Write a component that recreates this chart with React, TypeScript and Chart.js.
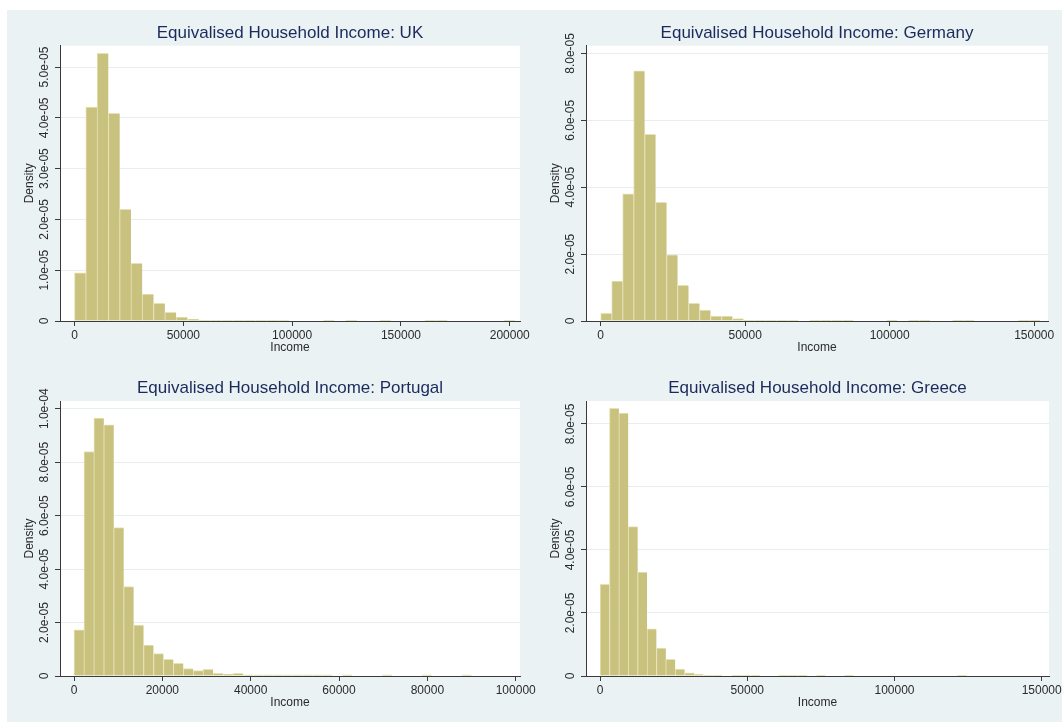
import React, { useEffect, useRef } from "react";
import { Chart, registerables } from "chart.js";

Chart.register(...registerables);

const FONT_FAMILY = '"Liberation Sans", Arial, Helvetica, sans-serif';
const BAR_FILL = "#c9c17e";
const BAR_EDGE = "#e6e2b4";
const GRID_COLOR = "#e6eef0";
const AXIS_COLOR = "#3a3a3a";
const TEXT_COLOR = "#2b2b2b";
const TITLE_COLOR = "#1b2a5c";
const PANEL_BG = "#eaf2f3";

// ---- UK ----
const ukTitle = "Equivalised Household Income: UK";
const ukBinWidth = 5190;
const ukDensity = [
  0.95e-5, 4.21e-5, 5.27e-5, 4.09e-5, 2.2e-5, 1.135e-5, 0.53e-5, 0.35e-5, 0.17e-5, 0.075e-5,
  0.035e-5, 0.02e-5, 0.02e-5, 0.02e-5, 0.02e-5, 0.02e-5, 0.02e-5, 0.02e-5, 0.02e-5, 0,
  0, 0, 0.02e-5, 0, 0.02e-5, 0, 0, 0.02e-5, 0, 0,
  0, 0.02e-5, 0.02e-5, 0, 0, 0, 0, 0, 0.02e-5,
];
const ukXTicks = [0, 50000, 100000, 150000, 200000];
const ukYTicks = [0, 1e-5, 2e-5, 3e-5, 4e-5, 5e-5];

// ---- Germany ----
const deTitle = "Equivalised Household Income: Germany";
const deBinWidth = 3800;
const deDensity = [
  0.23e-5, 1.19e-5, 3.8e-5, 7.48e-5, 5.58e-5, 3.55e-5, 1.98e-5, 1.07e-5, 0.53e-5, 0.33e-5,
  0.15e-5, 0.15e-5, 0.07e-5, 0.03e-5, 0.03e-5, 0.03e-5, 0.03e-5, 0.03e-5, 0, 0.02e-5,
  0.02e-5, 0.02e-5, 0.02e-5, 0, 0, 0, 0.02e-5, 0, 0.02e-5, 0.02e-5,
  0, 0, 0.02e-5, 0.02e-5, 0, 0, 0, 0, 0.02e-5, 0.02e-5,
];
const deXTicks = [0, 50000, 100000, 150000];
const deYTicks = [0, 2e-5, 4e-5, 6e-5, 8e-5];

// ---- Portugal ----
const ptTitle = "Equivalised Household Income: Portugal";
const ptBinWidth = 2250;
const ptDensity = [
  1.73e-5, 8.4e-5, 9.65e-5, 9.4e-5, 5.55e-5, 3.35e-5, 1.91e-5, 1.16e-5, 0.84e-5, 0.62e-5,
  0.47e-5, 0.28e-5, 0.2e-5, 0.25e-5, 0.1e-5, 0.06e-5, 0.1e-5, 0.04e-5, 0.04e-5, 0.04e-5,
  0.04e-5, 0.04e-5, 0.04e-5, 0.04e-5, 0.04e-5, 0.04e-5, 0, 0.04e-5, 0, 0,
  0, 0.04e-5, 0, 0, 0, 0.04e-5, 0, 0, 0, 0.04e-5,
];
const ptXTicks = [0, 20000, 40000, 60000, 80000, 100000];
const ptYTicks = [0, 2e-5, 4e-5, 6e-5, 8e-5, 1e-4];

// ---- Greece ----
const grTitle = "Equivalised Household Income: Greece";
const grBinWidth = 3190;
const grDensity = [
  2.91e-5, 8.5e-5, 8.35e-5, 4.74e-5, 3.3e-5, 1.5e-5, 0.89e-5, 0.53e-5, 0.22e-5, 0.1e-5,
  0.05e-5, 0.03e-5, 0.03e-5, 0, 0.02e-5, 0.02e-5, 0.02e-5, 0, 0, 0.02e-5,
  0.02e-5, 0.02e-5, 0, 0.02e-5, 0, 0, 0.02e-5, 0, 0, 0,
  0, 0, 0, 0, 0, 0, 0, 0, 0.02e-5,
];
const grXTicks = [0, 50000, 100000, 150000];
const grYTicks = [0, 2e-5, 4e-5, 6e-5, 8e-5];

type Box = { left: number; top: number; width: number; height: number };
type Pad = { left: number; right: number; top: number; bottom: number };

type Panel = {
  title: string;
  binWidth: number;
  density: number[];
  xTicks: number[];
  yTicks: number[];
  xMin: number;
  xMax: number;
  yMax: number;
  frame: Box;
  pad: Pad;
  titlePad: { top: number; bottom: number };
};

const panels: Panel[] = [
  {
    title: ukTitle, binWidth: ukBinWidth, density: ukDensity, xTicks: ukXTicks, yTicks: ukYTicks,
    xMin: -6660, xMax: 204700, yMax: 5.42e-5,
    frame: { left: 7, top: 10, width: 544, height: 351 },
    pad: { left: 13, right: 31, top: 0, bottom: 4 },
    titlePad: { top: 13.1, bottom: 2.2 },
  },
  {
    title: deTitle, binWidth: deBinWidth, density: deDensity, xTicks: deXTicks, yTicks: deYTicks,
    xMin: -5090, xMax: 154780, yMax: 8.23e-5,
    frame: { left: 531, top: 10, width: 531, height: 351 },
    pad: { left: 15, right: 14, top: 0, bottom: 4 },
    titlePad: { top: 13.1, bottom: 2.2 },
  },
  {
    title: ptTitle, binWidth: ptBinWidth, density: ptDensity, xTicks: ptXTicks, yTicks: ptYTicks,
    xMin: -3170, xMax: 100970, yMax: 10.29e-5,
    frame: { left: 7, top: 361, width: 544, height: 361 },
    pad: { left: 13, right: 31, top: 0, bottom: 10 },
    titlePad: { top: 16.8, bottom: 2.8 },
  },
  {
    title: grTitle, binWidth: grBinWidth, density: grDensity, xTicks: grXTicks, yTicks: grYTicks,
    xMin: -4790, xMax: 152480, yMax: 8.73e-5,
    frame: { left: 531, top: 361, width: 531, height: 361 },
    pad: { left: 15, right: 13, top: 0, bottom: 10 },
    titlePad: { top: 16.8, bottom: 2.8 },
  },
];

// Stata-style density labels: 0, 1.0e-05, 2.0e-05 ...
function formatDensity(v: number): string {
  if (Math.abs(v) < 1e-12) return "0";
  const [mant, exp] = v.toExponential(1).split("e");
  const e = parseInt(exp, 10);
  return `${mant}e${e < 0 ? "-" : "+"}${String(Math.abs(e)).padStart(2, "0")}`;
}

// White plot region behind the bars
const plotBackground = {
  id: "plotBackground",
  beforeDraw(chart: any) {
    const { ctx, chartArea } = chart;
    if (!chartArea) return;
    ctx.save();
    ctx.fillStyle = "#ffffff";
    ctx.fillRect(chartArea.left, chartArea.top, chartArea.right - chartArea.left, chartArea.bottom - chartArea.top);
    ctx.restore();
  },
};

const tickFont = { family: FONT_FAMILY, size: 12, lineHeight: 1.2 };

function HistogramPanel({ panel }: { panel: Panel }) {
  const ref = useRef<HTMLCanvasElement | null>(null);

  useEffect(() => {
    if (!ref.current) return;
    const bars = panel.density.map((d, i) => ({ x: (i + 0.5) * panel.binWidth, y: d }));
    const chart = new Chart(ref.current, {
      type: "bar",
      data: {
        datasets: [
          {
            data: bars as any,
            backgroundColor: BAR_FILL,
            borderColor: BAR_EDGE,
            borderWidth: { top: 1, left: 1, right: 0, bottom: 0 } as any,
            borderSkipped: "start",
            barPercentage: 1,
            categoryPercentage: 1,
          },
        ],
      },
      plugins: [plotBackground],
      options: {
        responsive: false,
        animation: false,
        devicePixelRatio: 1,
        events: [],
        layout: { padding: panel.pad },
        plugins: {
          legend: { display: false },
          tooltip: { enabled: false },
          title: {
            display: true,
            text: panel.title,
            color: TITLE_COLOR,
            fullSize: false,
            font: { family: FONT_FAMILY, size: 17, weight: "normal", lineHeight: 1.2 },
            padding: panel.titlePad,
          },
        },
        scales: {
          x: {
            type: "linear",
            min: panel.xMin,
            max: panel.xMax,
            offset: false,
            afterBuildTicks: (s: any) => {
              s.ticks = panel.xTicks.map((v) => ({ value: v }));
            },
            afterFit: (s: any) => {
              s.height = 36;
              s.paddingLeft = 0;
              s.paddingRight = 0;
            },
            ticks: {
              autoSkip: false,
              maxRotation: 0,
              minRotation: 0,
              padding: 2.8,
              color: TEXT_COLOR,
              font: tickFont,
              callback: (v: any) => String(v),
            },
            grid: {
              offset: false,
              drawOnChartArea: false,
              drawTicks: true,
              tickLength: 5,
              tickColor: AXIS_COLOR,
            },
            border: { color: AXIS_COLOR, width: 1 },
            title: {
              display: true,
              text: "Income",
              color: TEXT_COLOR,
              font: tickFont,
              padding: { top: 0, bottom: 1.8 },
            },
          },
          y: {
            type: "linear",
            min: 0,
            max: panel.yMax,
            afterBuildTicks: (s: any) => {
              s.ticks = panel.yTicks.map((v) => ({ value: v }));
            },
            afterFit: (s: any) => {
              s.width = 40;
              s.paddingTop = 0;
              s.paddingBottom = 0;
            },
            ticks: {
              autoSkip: false,
              minRotation: 90,
              maxRotation: 90,
              crossAlign: "center",
              padding: -10.15,
              color: TEXT_COLOR,
              font: tickFont,
              callback: (v: any) => formatDensity(Number(v)),
            },
            grid: {
              color: GRID_COLOR,
              lineWidth: 1,
              drawTicks: true,
              tickLength: 5,
              tickColor: AXIS_COLOR,
            },
            border: { color: AXIS_COLOR, width: 1 },
            title: {
              display: true,
              text: "Density",
              color: TEXT_COLOR,
              font: tickFont,
              padding: { top: 2.6, bottom: 0 },
            },
          },
        },
      } as any,
    });
    return () => chart.destroy();
  }, [panel]);

  const { left, top, width, height } = panel.frame;
  return (
    <canvas
      ref={ref}
      width={width}
      height={height}
      style={{ position: "absolute", left, top, width, height }}
    />
  );
}

export default function App() {
  return (
    <div
      style={{
        position: "absolute",
        left: 0,
        top: 0,
        width: 1062,
        height: 722,
        background: "#ffffff",
        overflow: "hidden",
      }}
    >
      <div
        style={{
          position: "absolute",
          left: 7,
          top: 10,
          right: 0,
          bottom: 0,
          background: PANEL_BG,
        }}
      />
      {panels.map((p) => (
        <HistogramPanel key={p.title} panel={p} />
      ))}
    </div>
  );
}
